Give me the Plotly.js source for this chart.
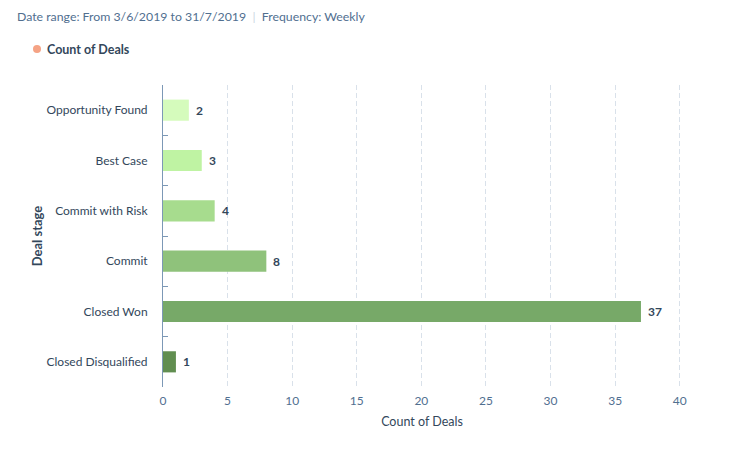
<!DOCTYPE html>
<html>
<head>
<meta charset="utf-8">
<script src="https://cdn.plot.ly/plotly-3.0.1.min.js"></script>
<style>html,body{margin:0;padding:0;background:#fff;}#chart{width:752px;height:455px;}</style>
</head>
<body>
<div id="chart"></div>
<script>
const categories = ["Opportunity Found", "Best Case", "Commit with Risk", "Commit", "Closed Won", "Closed Disqualified"];
const counts = [2, 3, 4, 8, 37, 1];
const barColors = ["#d5fbbc", "#bff3a3", "#a7dc8e", "#8fc27b", "#77a968", "#618e50"];
const xTicks = [0, 5, 10, 15, 20, 25, 30, 35, 40];
const seriesName = "Count of Deals";
const headerText = "Date range: From 3/6/2019 to 31/7/2019 <span style='color:#cbd6e2'> | </span> Frequency: Weekly";

const FONT = "Lato, 'Open Sans', sans-serif";
const DARK = "#33475b";

const bar = {
  type: "bar",
  orientation: "h",
  y: categories,
  x: counts,
  marker: { color: barColors },
  width: 0.42,
  showlegend: false,
  hoverinfo: "x+y"
};

const valueLabels = categories.map((c, i) => ({
  x: counts[i], y: c, xref: "x", yref: "y",
  text: "<b>" + counts[i] + "</b>",
  showarrow: false, xanchor: "left", xshift: 5,
  font: { family: FONT, size: 12, color: DARK }
}));

// paper coords: x 0->163px, 1->681px ; y 0->387px, 1->85px
const px = p => (p - 163) / 518;
const py = p => (387 - p) / 302;

const layout = {
  width: 752, height: 455,
  margin: { l: 163, r: 71, t: 85, b: 68 },
  paper_bgcolor: "#fff", plot_bgcolor: "#fff",
  font: { family: FONT, size: 12, color: DARK },
  xaxis: {
    range: [0, 40.1],
    tickvals: xTicks,
    ticktext: xTicks.map(String),
    showgrid: true, gridcolor: "#d9e1ea", griddash: "5px,3px", gridwidth: 1,
    zeroline: false, showline: false, ticks: "",
    ticklabelstandoff: 5,
    tickfont: { family: FONT, size: 12, color: "#516f90" },
    title: { text: "Count of Deals", font: { family: FONT, size: 12.5, color: DARK }, standoff: 10 },
    fixedrange: true
  },
  yaxis: {
    type: "category",
    categoryorder: "array",
    categoryarray: categories,
    autorange: "reversed",
    showline: true, linecolor: "#7c98b6", linewidth: 1,
    ticks: "inside", ticklen: 5, tickcolor: "#7c98b6",
    tickson: "boundaries",
    showgrid: false, zeroline: false,
    ticklabelstandoff: 12,
    tickfont: { family: FONT, size: 12, color: DARK },
    title: { text: "<b>Deal stage</b>", font: { family: FONT, size: 13, color: DARK }, standoff: 0 },
    fixedrange: true
  },
  showlegend: false,
  shapes: [
    {
      type: "circle", xref: "paper", yref: "paper",
      xsizemode: "pixel", ysizemode: "pixel",
      xanchor: px(37), yanchor: py(49),
      x0: -4, x1: 4, y0: -4, y1: 4,
      fillcolor: "#f5a385", line: { width: 0 }
    }
  ],
  annotations: [
    {
      xref: "paper", yref: "paper",
      x: px(15), y: py(17), xanchor: "left", yanchor: "middle",
      text: headerText, showarrow: false,
      font: { family: FONT, size: 12.3, color: "#516f90" }
    },
    {
      xref: "paper", yref: "paper",
      x: px(45), y: py(49), xanchor: "left", yanchor: "middle",
      text: "<b>" + seriesName + "</b>", showarrow: false,
      font: { family: FONT, size: 12.5, color: DARK }
    }
  ].concat(valueLabels)
};

Plotly.newPlot("chart", [bar], layout, { displayModeBar: false, staticPlot: true });
</script>
</body>
</html>
